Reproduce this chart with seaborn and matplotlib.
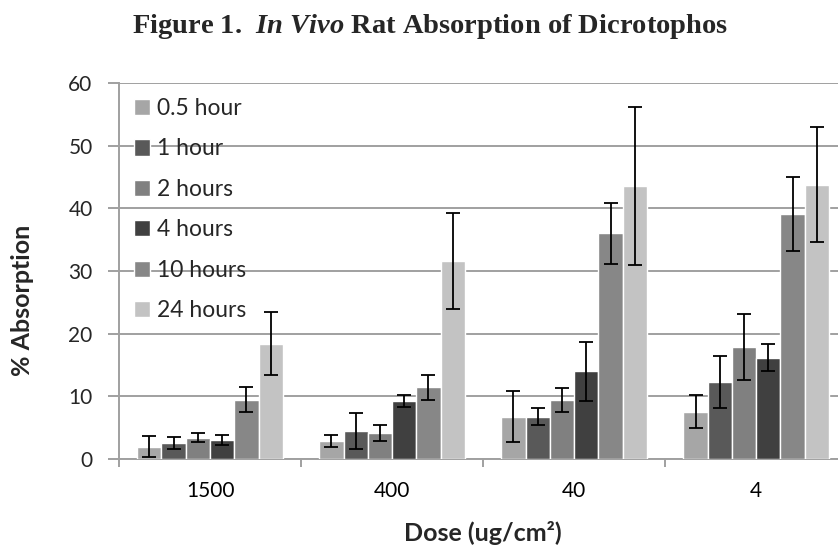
import pandas as pd
import numpy as np
import matplotlib
matplotlib.use('Agg')
import matplotlib.pyplot as plt
import matplotlib.ticker as ticker
import seaborn as sns

doses = ['1500', '400', '40', '4']
times = ['0.5 hour', '1 hour', '2 hours', '4 hours', '10 hours', '24 hours']
colors = ['#a6a6a6', '#595959', '#808080', '#404040', '#878787', '#c3c3c3']

# mean % absorption per time point, one list per dose
mean_1500 = [2.0, 2.6, 3.4, 3.1, 9.5, 18.4]
mean_400 = [2.9, 4.5, 4.2, 9.3, 11.5, 31.6]
mean_40 = [6.8, 6.8, 9.5, 14.0, 36.0, 43.6]
mean_4 = [7.6, 12.3, 17.9, 16.2, 39.1, 43.8]

# error bar half-widths
err_1500 = [1.7, 1.0, 0.7, 0.8, 2.0, 5.0]
err_400 = [1.0, 2.9, 1.3, 1.0, 2.0, 7.6]
err_40 = [4.1, 1.3, 1.9, 4.7, 4.8, 12.6]
err_4 = [2.6, 4.1, 5.3, 2.1, 5.9, 9.2]

means = [mean_1500, mean_400, mean_40, mean_4]
errs = [err_1500, err_400, err_40, err_4]

rows = []
for d, m, e in zip(doses, means, errs):
    for t, v, s in zip(times, m, e):
        rows.append({'dose': d, 'time': t, 'absorption': v, 'err': s})
df = pd.DataFrame(rows)

sns.set_style('white')
plt.rcParams['font.family'] = ['Lato', 'DejaVu Sans']
plt.rcParams['mathtext.fontset'] = 'custom'
plt.rcParams['mathtext.it'] = 'Liberation Serif:bold:italic'
plt.rcParams['mathtext.rm'] = 'Liberation Serif:bold'

fig = plt.figure(figsize=(8.38, 5.46), dpi=100)
ax = fig.add_axes([0.142, 0.159, 0.869, 0.689])

sns.barplot(data=df, x='dose', y='absorption', hue='time', order=doses,
            hue_order=times, palette=colors, errorbar=None, width=0.8,
            saturation=1, ax=ax, zorder=3)

for cont, t in zip(ax.containers, times):
    sub = df[df['time'] == t].set_index('dose').loc[doses]
    xs = [p.get_x() + p.get_width() / 2 for p in cont.patches]
    ax.errorbar(xs, sub['absorption'], yerr=sub['err'], fmt='none',
                ecolor='black', elinewidth=1.3, capsize=5, capthick=1.3, zorder=4)

ax.set_ylim(0, 60)
ax.set_xlim(-0.5, 3.5)
ax.yaxis.set_major_locator(ticker.MultipleLocator(10))
ax.grid(True, axis='y', color='#a0a0a0', linewidth=1.4, zorder=0)
ax.set_axisbelow(True)
for side in ['top', 'right']:
    ax.spines[side].set_visible(False)
for side in ['left', 'bottom']:
    ax.spines[side].set_color('#a0a0a0')
    ax.spines[side].set_linewidth(1.4)

ax.xaxis.set_minor_locator(ticker.FixedLocator([-0.5, 0.5, 1.5, 2.5, 3.5]))
ax.tick_params(axis='x', which='major', length=0, pad=16, labelsize=15, labelcolor='black')
ax.tick_params(axis='x', which='minor', bottom=True, length=6, width=1.4, color='#a0a0a0', direction='out')
ax.tick_params(axis='y', left=True, length=8, width=1.4, color='#a0a0a0', direction='out',
               labelsize=15, pad=11)

ax.set_xlabel('Dose (ug/cm²)', fontsize=18, fontweight='bold')
ax.set_ylabel('% Absorption', fontsize=18, fontweight='bold')
ax.xaxis.set_label_coords(0.5, -0.196)
ax.xaxis.label.set_va('center')
ax.yaxis.set_label_coords(-0.133, 0.423)
ax.yaxis.label.set_va('center')

leg = ax.legend(loc='upper left', frameon=False, fontsize=16.5, labelspacing=0.85,
                handlelength=0.72, handleheight=0.72, handletextpad=0.3,
                bbox_to_anchor=(0.0, 1.0), borderaxespad=0.25)

fig.text(0.513, 0.952, r'Figure 1.  $\mathit{In\ Vivo}$ Rat Absorption of Dicrotophos',
         ha='center', va='center', fontsize=20.5, fontweight='bold',
         family='Liberation Serif')

fig.savefig('out.png', dpi=100)
